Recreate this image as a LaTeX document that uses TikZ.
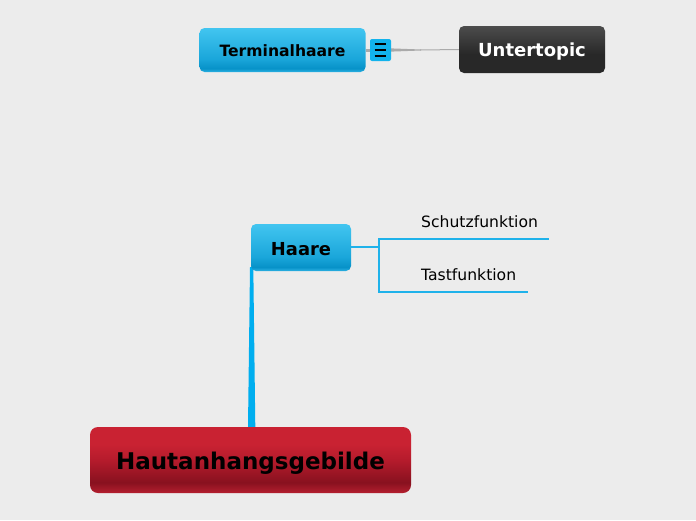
\documentclass[tikz,border=0pt]{standalone}
\usepackage{fontspec}
\setmainfont{DejaVu Sans}
\usetikzlibrary{calc,backgrounds}
\pgfdeclarelayer{canvas}
\pgfsetlayers{canvas,background,main}
\definecolor{bgc}{HTML}{ECECEC}
\definecolor{bltop}{HTML}{42C5F0}
\definecolor{blmid}{HTML}{1AA6DA}
\definecolor{bldark}{HTML}{0792C8}
\definecolor{blbot}{HTML}{2DB2E4}
\definecolor{rdtop}{HTML}{C92232}
\definecolor{rdmid}{HTML}{B51B2C}
\definecolor{rddark}{HTML}{88111F}
\definecolor{rdbot}{HTML}{B41F2F}
\definecolor{dktop}{HTML}{4C4C4C}
\definecolor{dkbot}{HTML}{282828}
\definecolor{linkblue}{HTML}{00AEEF}
\definecolor{subblue}{HTML}{1FB2EA}
\definecolor{greyline}{HTML}{AAAAAA}
\definecolor{iconblue}{HTML}{12B3EC}
\pgfdeclareverticalshading{blueshade}{100bp}{color(0bp)=(blbot); color(25bp)=(blbot); color(29bp)=(bldark); color(40bp)=(blmid); color(75bp)=(bltop); color(100bp)=(bltop)}
\pgfdeclareverticalshading{redshade}{100bp}{color(0bp)=(rdbot); color(25bp)=(rdbot); color(33bp)=(rddark); color(50bp)=(rdmid); color(62bp)=(rdtop); color(100bp)=(rdtop)}
\pgfdeclareverticalshading{darkshade}{100bp}{color(0bp)=(dkbot); color(25bp)=(dkbot); color(45bp)=(dkbot); color(75bp)=(dktop); color(100bp)=(dktop)}
\tikzset{
  topicbox/.style={rounded corners=5pt, inner sep=0pt, font=\bfseries},
  bluebox/.style={topicbox, shading=blueshade},
  subtopic/.style={anchor=south west, inner xsep=10pt, inner ysep=3pt, text height=12pt, text depth=8pt, align=left, font=\fontsize{15.6}{18}\selectfont},
  sublink/.style={draw=subblue, line width=1.4pt},
}
\newcommand{\dn}[2]{\raisebox{-#1}[\height][\depth]{#2}}
\begin{document}
\begin{tikzpicture}[x=1pt,y=-1pt]
\begin{pgfonlayer}{canvas}
\fill[bgc] (0,0) rectangle (696,520);
\end{pgfonlayer}
\useasboundingbox (0,0) rectangle (696,520);
% nodes
\node[bluebox, minimum width=166pt, minimum height=44pt, font=\bfseries\fontsize{15.6}{18}\selectfont] (term) at (282.5,50) {\dn{1pt}{Terminalhaare}};
\node[topicbox, shading=darkshade, minimum width=146pt, minimum height=47pt, text=white, font=\bfseries\fontsize{18}{21}\selectfont] (unter) at (532,49.5) {\dn{2.5pt}{Untertopic}};
\node[bluebox, minimum width=100pt, minimum height=47pt, font=\bfseries\fontsize{17.9}{21}\selectfont] (haare) at (301,247.5) {\dn{2pt}{Haare}};
\node[topicbox, shading=redshade, rounded corners=8pt, minimum width=321pt, minimum height=66pt, font=\bfseries\fontsize{23}{27}\selectfont] (haut) at (250.5,460) {\dn{3pt}{Hautanhangsgebilde}};
\node[subtopic, text width=118pt] (s1) at (411,239) {Schutzfunktion};
\node[subtopic, text width=97pt] (s2) at (411,292) {Tastfunktion};
\node[fill=iconblue, rounded corners=2pt, minimum width=21pt, minimum height=22pt, inner sep=0pt] (icon) at (380.5,50) {};
\foreach \dy in {-6.3,0,6.3}{
  \draw[line width=2.2pt, black] ([xshift=-6pt,yshift=\dy pt]icon.center) -- ([xshift=5.5pt,yshift=\dy pt]icon.center);
}
% connectors
\begin{scope}[on background layer]
\fill[linkblue] ([xshift=-0.8pt,yshift=4pt]haare.south west) -- ([xshift=2.5pt,yshift=4pt]haare.south west) -- ([xshift=4.8pt]haut.north) -- ([xshift=-2.5pt]haut.north) -- cycle;
\draw[greyline, line width=3pt] (term.east) -- (icon.west);
\fill[greyline] ([yshift=1.6pt]icon.east) -- ([xshift=30pt,yshift=0.5pt]icon.east) -- ([xshift=30pt,yshift=-0.5pt]icon.east) -- ([yshift=-1.6pt]icon.east) -- cycle;
\draw[greyline, line width=1pt] ([xshift=29pt]icon.east) -- (unter.west);
\end{scope}
\coordinate (fork) at (379,247);
\draw[sublink] (haare.east |- fork) -- (fork);
\draw[sublink] (fork) |- (s1.south west) -- (s1.south east);
\draw[sublink] (fork) |- (s2.south west) -- (s2.south east);
\end{tikzpicture}
\end{document}
